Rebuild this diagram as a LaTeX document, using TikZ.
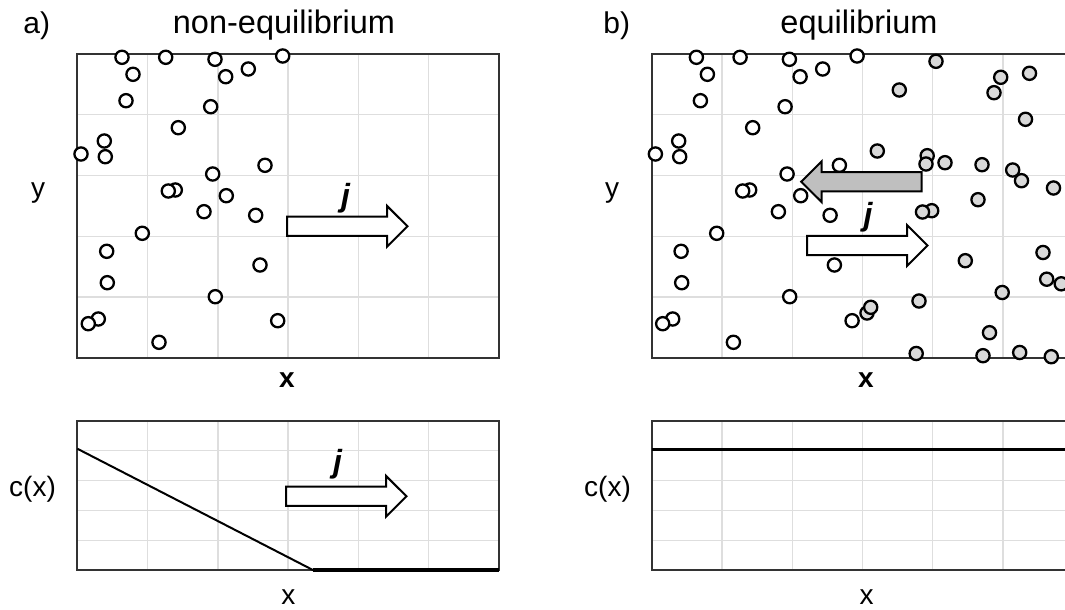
\documentclass[tikz,border=0pt]{standalone}
\usepackage{fontspec}
\setmainfont{Liberation Sans}

\begin{document}
\begin{tikzpicture}[x=1pt, y=-1pt,
  gridline/.style={black!13, line width=1.3pt},
  boxline/.style={black!80, line width=1.8pt},
  whitedot/.style={draw, line width=2.3pt, fill=white},
  greydot/.style={draw, line width=2.3pt, fill=black!15},
  lbl/.style={font=\fontsize{28}{30}\selectfont, anchor=base},
  ttl/.style={font=\fontsize{32.5}{34}\selectfont, anchor=base},
  fluxlbl/.style={font=\fontsize{32}{34}\selectfont\bfseries\itshape, anchor=base},
  pics/flux/.style={code={
    \draw[line width=2pt, pic actions] (0,-9.6) -- (100,-9.6) -- (100,-20.4)
      -- (120.5,0) -- (100,20.4) -- (100,9.6) -- (0,9.6) -- cycle;}}
]
\useasboundingbox (0,0) rectangle (1065,610);
\clip (0,0) rectangle (1065,610);
% both panels share frames, grids and white particles (b is a shifted by 574.4)
\foreach \dx in {0,574.4}{
  \begin{scope}[xshift=\dx pt]
    % particle box: 6 columns, 5 rows
    \foreach \k in {1,...,5} \draw[gridline] (77.3+70.28*\k,54) -- (77.3+70.28*\k,357.7);
    \foreach \k in {1,...,4} \draw[gridline] (77.3,54+60.74*\k) -- (499,54+60.74*\k);
    \draw[boxline] (77.3,54) rectangle (499,357.7);
    % concentration plot
    \foreach \k in {1,...,5} \draw[gridline] (77.3+70.28*\k,420.7) -- (77.3+70.28*\k,570.2);
    \foreach \k in {1,...,4} \draw[gridline] (77.3,420.7+29.9*\k) -- (499,420.7+29.9*\k);
    \draw[boxline] (77.3,420.7) rectangle (499,570.2);
    % white particles
    \foreach \px/\py in {122/57.3, 165.7/57.3, 215/59.3, 282.7/56, 133/74.3, 225.7/76.7,
        248.3/69, 126/100.7, 210.7/106.7, 178.3/127.7, 104.3/141, 81/154, 105.3/156.7,
        265/165.3, 212.7/174, 175.3/190, 168.3/191, 226.3/195.7, 204/211.7, 255.7/215.3,
        142.3/233.3, 106.7/251.3, 260/265, 107.3/282.7, 215.3/296.7, 98.3/319, 88.3/323.7,
        277.7/320.7, 159/342.3}
      \draw[whitedot] (\px,\py) circle[radius=6.6];
  \end{scope}
}
% grey particles, only in b)
\foreach \px/\py in {936/61.3, 899.3/90, 1000.7/77.3, 994/92.7, 1029.5/73.3, 1025.5/119.3,
    877.3/151, 927.2/155.7, 926/164, 945/162.7, 982/164.7, 1012.7/170, 1021.5/180.7,
    1053.5/188, 978/199.7, 931.7/210.7, 922.5/212, 1043/252.5, 965.3/260.7, 1046.7/279.2,
    1061.2/283.8, 1002.2/292.5, 919/301, 867/313, 870.7/307.3, 989.5/332.7, 916.2/353.5,
    983/355.7, 1019.7/352.5, 1051.3/356.7}
  \draw[greydot] (\px,\py) circle[radius=6.6];
% concentration profiles
\draw[line width=2pt] (77.3,448.7) -- (313.3,570.2);
\draw[line width=3.5pt] (313.3,570.2) -- (499,570.2);
\draw[line width=2.5pt] (651.7,449.7) -- (1073.4,449.7);
% flux arrows
\pic[fill=white] at (287,226.3) {flux};
\pic[fill=white] at (286,496.3) {flux};
\pic[fill=white] at (807,245.5) {flux};
\pic[fill=black!25, rotate=180] at (921.7,181.7) {flux};
\node[fluxlbl] (jA) at (345.5,206) {j};
\node[fluxlbl] (jC) at (337.5,472.6) {j};
\node[fluxlbl] (jB) at (868,225) {j};
% labels
\node[lbl, font=\fontsize{30}{32}\selectfont] (tagA) at (36.7,33.3) {a)};
\node[ttl] (titleA) at (284,33.3) {non-equilibrium};
\node[lbl, font=\fontsize{30}{32}\selectfont] (tagB) at (616.7,33.3) {b)};
\node[ttl] (titleB) at (859,33.3) {equilibrium};
\node[lbl] (yA) at (38,197) {y};
\node[lbl] (yB) at (612,197) {y};
\node[lbl] (xA) at (287,387) {\bfseries x};
\node[lbl] (xB) at (866,387) {\bfseries x};
\node[lbl] (cA) at (32.5,496) {c(x)};
\node[lbl] (cB) at (607.5,496) {c(x)};
\node[lbl] (xC) at (288.3,604) {x};
\node[lbl] (xD) at (866.7,604) {x};
\end{tikzpicture}
\end{document}
